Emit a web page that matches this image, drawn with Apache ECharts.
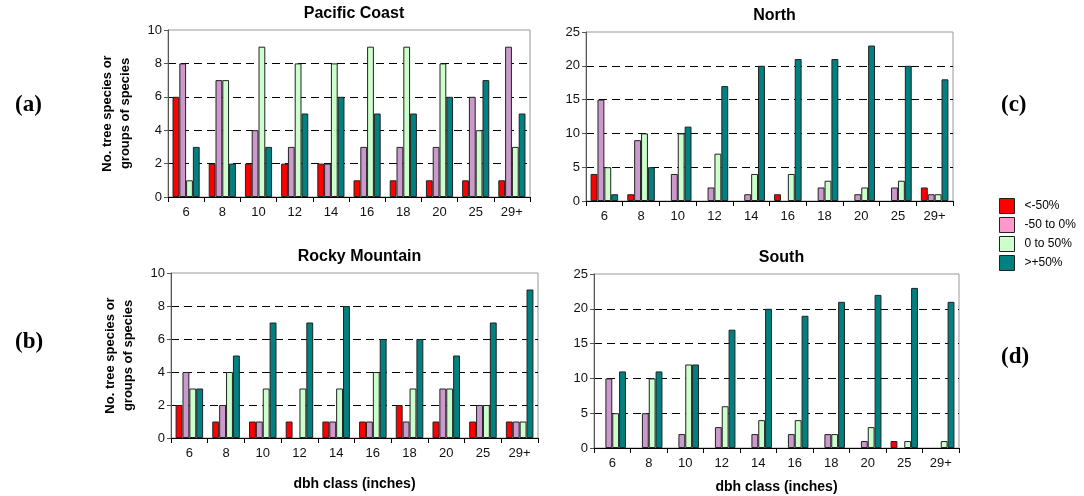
<!DOCTYPE html>
<html><head><meta charset="utf-8">
<script src="https://cdn.jsdelivr.net/npm/echarts@6/dist/echarts.min.js"></script>
<style>html,body{margin:0;padding:0;background:#fff}#c{width:1084px;height:496px}</style>
</head><body><div id="c"></div>
<script>
const categories = ['6','8','10','12','14','16','18','20','25','29+'];
const seriesNames = ['<-50%','-50 to 0%','0 to 50%','>+50%'];

const pacificRed    = [6,2,2,2,2,1,1,1,1,1];
const pacificPurple = [8,7,4,3,2,3,3,3,6,9];
const pacificGreen  = [1,7,9,8,8,9,9,8,4,3];
const pacificTeal   = [3,2,3,5,6,5,5,6,7,5];

const northRed    = [4,1,0,0,0,1,0,0,0,2];
const northPurple = [15,9,4,2,1,0,2,1,2,1];
const northGreen  = [5,10,10,7,4,4,3,2,3,1];
const northTeal   = [1,5,11,17,20,21,21,23,20,18];

const rockyRed    = [2,1,1,1,1,1,2,1,1,1];
const rockyPurple = [4,2,1,0,1,1,1,3,2,1];
const rockyGreen  = [3,4,3,3,3,4,3,3,2,1];
const rockyTeal   = [3,5,7,7,8,6,6,5,7,9];

const southRed    = [0,0,0,0,0,0,0,0,1,0];
const southPurple = [10,5,2,3,2,2,2,1,0,0];
const southGreen  = [5,10,12,6,4,4,2,3,1,1];
const southTeal   = [11,11,12,17,20,19,21,22,23,21];

const panelTitles = ['Pacific Coast','North','Rocky Mountain','South'];
const yAxisTitle = 'No. tree species or\ngroups of species';
const xAxisTitle = 'dbh class (inches)';

const colors = ['#FF0000','#CC99CC','#CCFFCC','#008080'];
const legendColors = ['#FF0000','#FF99CC','#CCFFCC','#008080'];

const panels = [
  {data:[pacificRed,pacificPurple,pacificGreen,pacificTeal], max:10, interval:2, grid:{left:168, top:30, width:362, height:167}, yName:true, xName:false},
  {data:[northRed,northPurple,northGreen,northTeal], max:25, interval:5, grid:{left:586, top:32, width:367, height:169}, yName:false, xName:false},
  {data:[rockyRed,rockyPurple,rockyGreen,rockyTeal], max:10, interval:2, grid:{left:171, top:273, width:367, height:165}, yName:true, xName:true},
  {data:[southRed,southPurple,southGreen,southTeal], max:25, interval:5, grid:{left:594, top:274, width:365, height:174}, yName:false, xName:true}
];

const font = 'Liberation Sans, Arial, sans-serif';
const serif = 'Liberation Serif, Times New Roman, serif';
const grids=[], xAxes=[], yAxes=[], series=[], titles=[];
panels.forEach((p,i)=>{
  grids.push(Object.assign({show:true, borderColor:'#999', borderWidth:1, backgroundColor:'transparent'}, p.grid));
  xAxes.push({
    type:'category', gridIndex:i, data:categories,
    axisLine:{lineStyle:{color:'#000', width:1}},
    axisTick:{show:true, alignWithLabel:false, length:5, lineStyle:{color:'#000'}},
    axisLabel:{color:'#111', fontSize:13, fontFamily:font, margin:9, interval:0},
    name: p.xName ? xAxisTitle : '', nameLocation:'middle', nameGap: i===2 ? 39 : 32,
    nameTextStyle:{fontSize:14, fontWeight:'bold', fontFamily:font, color:'#000'}
  });
  yAxes.push({
    type:'value', gridIndex:i, min:0, max:p.max, interval:p.interval,
    axisLine:{show:true, lineStyle:{color:'#555'}},
    axisTick:{show:true, length:4, lineStyle:{color:'#555'}},
    axisLabel:{color:'#111', fontSize:13, fontFamily:font, margin:6},
    splitLine:{show:true, showMinLine:false, showMaxLine:false, lineStyle:{color:'#000', type:[8,5], width:1}},
    name: p.yName ? yAxisTitle : '', nameLocation:'middle', nameRotate:90, nameGap:34,
    nameTextStyle:{fontSize:13, fontWeight:'bold', fontFamily:font, color:'#000', lineHeight:18}
  });
  p.data.forEach((arr,k)=>{
    series.push({
      type:'bar', name:seriesNames[k], xAxisIndex:i, yAxisIndex:i,
      data:arr.map(v => v === 0 ? null : v),
      barGap:'0%', barCategoryGap:'25%',
      itemStyle:{color:colors[k], borderColor:'#222', borderWidth:1},
      emphasis:{disabled:true}, animation:false
    });
  });
  titles.push({
    text:panelTitles[i],
    left: p.grid.left + p.grid.width/2, top: p.grid.top - 29, textAlign:'center',
    textStyle:{fontSize:16, fontWeight:'bold', fontFamily:font, color:'#000'}
  });
});
const letterStyle = {fontSize:23, fontWeight:'bold', fontFamily:serif, color:'#000'};
titles.push({text:'(a)', left:10, top:89, textStyle:letterStyle});
titles.push({text:'(b)', left:10, top:326, textStyle:letterStyle});
titles.push({text:'(c)', left:996, top:89, textStyle:letterStyle});
titles.push({text:'(d)', left:996, top:341, textStyle:letterStyle});

const chart = echarts.init(document.getElementById('c'), null, {renderer:'canvas'});
chart.setOption({
  animation:false,
  title:titles,
  legend:{
    orient:'vertical', left:994, top:193, itemWidth:15, itemHeight:15, itemGap:3,
    icon:'rect',
    textStyle:{fontSize:12, fontFamily:font, color:'#000', padding:[0,0,0,5]},
    data: seriesNames.map((n,k)=>({name:n, itemStyle:{color:legendColors[k], borderColor:'#222', borderWidth:1}})),
    selectedMode:false
  },
  grid:grids, xAxis:xAxes, yAxis:yAxes, series:series
});
</script></body></html>
